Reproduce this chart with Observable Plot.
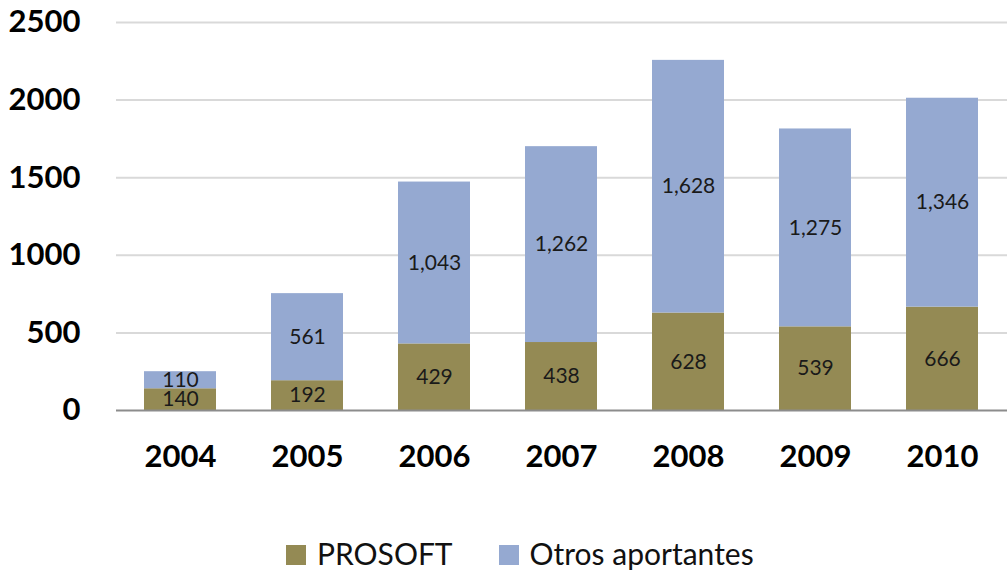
<!DOCTYPE html>
<html>
<head>
<meta charset="utf-8">
<script src="https://cdn.jsdelivr.net/npm/d3@7"></script>
<script src="https://cdn.jsdelivr.net/npm/@observablehq/plot@0.6"></script>
<style>
  html, body { margin: 0; padding: 0; background: #fff; }
  #chart { width: 1008px; }
  .legend { position: absolute; top: 536px; left: 286px; height: 34px; display: flex; align-items: center; font-family: Lato, sans-serif; font-size: 30px; color: #111; }
  .legend .item { display: flex; align-items: center; margin-right: 46px; }
  .legend .sw { width: 20px; height: 20px; margin-right: 11px; margin-top: 4px; }
</style>
</head>
<body>
<div id="chart"></div>
<div class="legend" id="legend"></div>
<script>
const years = ["2004", "2005", "2006", "2007", "2008", "2009", "2010"];
const series = ["PROSOFT", "Otros aportantes"];
const prosoft = [140, 192, 429, 438, 628, 539, 666];
const otros = [110, 561, 1043, 1262, 1628, 1275, 1346];
const colors = ["#948A54", "#95A9D1"];
const yTicks = [0, 500, 1000, 1500, 2000, 2500];

const data = [];
years.forEach((yr, i) => {
  data.push({year: yr, series: series[0], value: prosoft[i]});
  data.push({year: yr, series: series[1], value: otros[i]});
});

const fmt = d3.format(",");

const chart = Plot.plot({
  width: 1008,
  height: 530,
  marginTop: 22,
  marginBottom: 120,
  marginLeft: 116,
  marginRight: 1,
  style: {fontFamily: "Lato, sans-serif", background: "#fff"},
  x: {domain: years, padding: 0.43, paddingOuter: 0.215, label: null},
  y: {domain: [0, 2500], label: null},
  color: {domain: series, range: colors},
  marks: [
    Plot.ruleY(yTicks.filter(d => d > 0), {stroke: "#D9D9D9", strokeWidth: 2}),
    Plot.barY(data, {x: "year", y: "value", fill: "series"}),
    Plot.ruleY([0], {stroke: "#8C8C8C", strokeWidth: 2}),
    Plot.text(data, Plot.stackY({x: "year", y: "value", z: "series", text: d => fmt(d.value), fill: "#1a1a1a", fontSize: 21})),
    Plot.axisY({ticks: yTicks, tickFormat: d => String(d), tickSize: 0, tickPadding: 0, dx: -36, fontSize: 31, fontWeight: "bold", fill: "#000", label: null}),
    Plot.axisX({tickSize: 0, tickPadding: 34, fontSize: 31, fontWeight: "bold", fill: "#000", label: null})
  ]
});
document.getElementById("chart").appendChild(chart);

const legend = document.getElementById("legend");
series.forEach((s, i) => {
  const item = document.createElement("div");
  item.className = "item";
  const sw = document.createElement("div");
  sw.className = "sw";
  sw.style.background = colors[i];
  const t = document.createElement("span");
  t.textContent = s;
  item.appendChild(sw);
  item.appendChild(t);
  legend.appendChild(item);
});
</script>
</body>
</html>
